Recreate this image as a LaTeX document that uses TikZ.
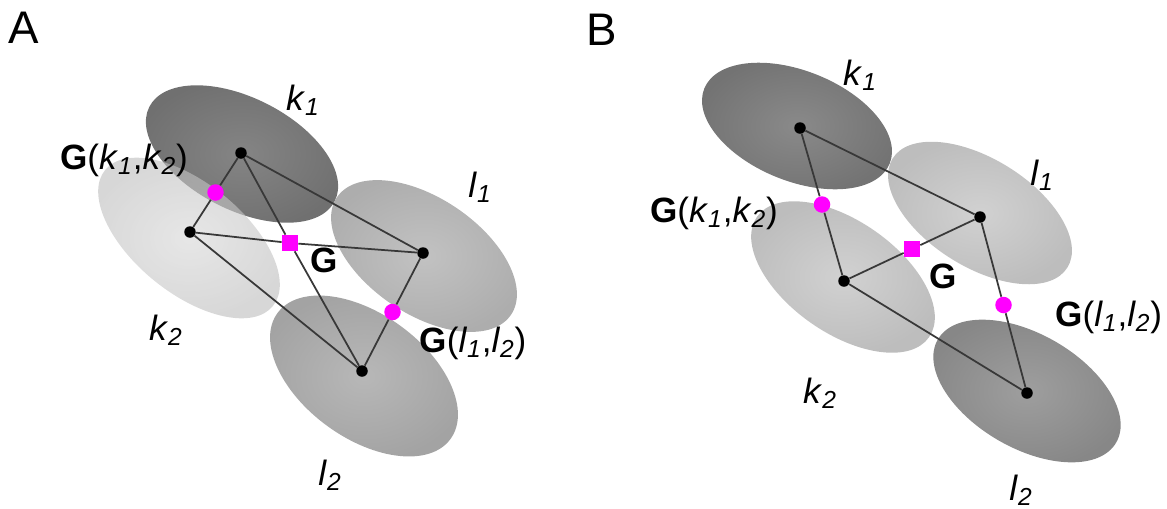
\documentclass[tikz,border=0pt]{standalone}
\usepackage{fontspec}
\setmainfont{Liberation Sans}
\usetikzlibrary{calc}

\definecolor{gmag}{RGB}{255,0,255}
\newcommand{\idx}[2]{\textit{#1}\textsubscript{\textit{#2}}}
\newcommand{\pair}[2]{\textbf{G}(#1,#2)}

\tikzset{
  blob/.style={shading=radial},
  dot/.style={circle, fill=black, inner sep=0pt, minimum size=0.23cm},
  gdot/.style={circle, fill=gmag, inner sep=0pt, minimum size=0.33cm},
  gsq/.style={rectangle, fill=gmag, inner sep=0pt, minimum size=0.32cm},
  link/.style={draw=black!78, line width=1pt},
  lab/.style={font=\fontsize{20}{24}\selectfont, inner sep=0pt},
  panel/.style={font=\fontsize{26}{30}\selectfont, inner sep=0pt}
}

\begin{document}
\begin{tikzpicture}[x=0.02cm, y=-0.02cm]
  \useasboundingbox (0,0) rectangle (1167,508);

  % panel A
  \node[panel] (alab) at (24,28) {A};
  \shade[blob, inner color=black!48, outer color=black!56, shift={(242,154)}, rotate=-27]
    (0,0) ellipse [x radius=104, y radius=56];
  \shade[blob, inner color=black!24, outer color=black!32, shift={(424,256)}, rotate=-34]
    (0,0) ellipse [x radius=105, y radius=58];
  \shade[blob, inner color=black!28, outer color=black!36, shift={(364,376)}, rotate=-36]
    (0,0) ellipse [x radius=107, y radius=62];
  \shade[blob, fill opacity=0.6, inner color=black!16, outer color=black!26, shift={(189,238)}, rotate=-39]
    (0,0) ellipse [x radius=108, y radius=55];

  \node[dot] (ak1) at (241,153) {};
  \node[dot] (ak2) at (190,232) {};
  \node[dot] (al1) at (423,253) {};
  \node[dot] (al2) at (362,371) {};
  \node[gdot] (agk) at ($(ak1)!0.5!(ak2)$) {};
  \node[gdot] (agl) at ($(al1)!0.5!(al2)$) {};
  \node[gsq] (aG) at (290,243) {};

  \draw[link] (ak1) -- (agk) -- (ak2);
  \draw[link] (ak1) -- (al1);
  \draw[link] (ak1) -- (aG) -- (al2);
  \draw[link] (ak2) -- (aG) -- (al1);
  \draw[link] (ak2) -- (al2);
  \draw[link] (al1) -- (agl) -- (al2);

  \node[lab] (ak1t) at (303,100) {\idx{k}{1}};
  \node[lab] (al1t) at (480,187) {\idx{l}{1}};
  \node[lab] (ak2t) at (166,330) {\idx{k}{2}};
  \node[lab] (al2t) at (330,475) {\idx{l}{2}};
  \node[lab] (agkt) at (124,160) {\pair{\idx{k}{1}}{\idx{k}{2}}};
  \node[lab] (aglt) at (473,343) {\pair{\idx{l}{1}}{\idx{l}{2}}};
  \node[lab] (aGt) at (324,260) {\textbf{G}};

  % panel B
  \node[panel] (blab) at (602,30) {B};
  \shade[blob, inner color=black!46, outer color=black!55, shift={(797,126)}, rotate=-22]
    (0,0) ellipse [x radius=100, y radius=55];
  \shade[blob, inner color=black!18, outer color=black!26, shift={(980,213)}, rotate=-32]
    (0,0) ellipse [x radius=103, y radius=54];
  \shade[blob, inner color=black!18, outer color=black!26, shift={(843,277)}, rotate=-35]
    (0,0) ellipse [x radius=105, y radius=56];
  \shade[blob, inner color=black!38, outer color=black!47, shift={(1027,391)}, rotate=-30]
    (0,0) ellipse [x radius=103, y radius=57];

  \node[dot] (bk1) at (800,128) {};
  \node[dot] (bk2) at (844,281) {};
  \node[dot] (bl1) at (980,217) {};
  \node[dot] (bl2) at (1027,393) {};
  \node[gdot] (bgk) at ($(bk1)!0.5!(bk2)$) {};
  \node[gdot] (bgl) at ($(bl1)!0.5!(bl2)$) {};
  \node[gsq] (bG) at ($(bk2)!0.5!(bl1)$) {};

  \draw[link] (bk1) -- (bgk) -- (bk2);
  \draw[link] (bk1) -- (bl1);
  \draw[link] (bk2) -- (bG) -- (bl1);
  \draw[link] (bk2) -- (bl2);
  \draw[link] (bl1) -- (bgl) -- (bl2);

  \node[lab] (bk1t) at (860,75) {\idx{k}{1}};
  \node[lab] (bl1t) at (1042,175) {\idx{l}{1}};
  \node[lab] (bk2t) at (820,393) {\idx{k}{2}};
  \node[lab] (bl2t) at (1021,490) {\idx{l}{2}};
  \node[lab] (bgkt) at (714,213) {\pair{\idx{k}{1}}{\idx{k}{2}}};
  \node[lab, anchor=west] (bglt) at (1055,317) {\pair{\idx{l}{1}}{\idx{l}{2}}};
  \node[lab] (bGt) at (943,276) {\textbf{G}};
\end{tikzpicture}
\end{document}
